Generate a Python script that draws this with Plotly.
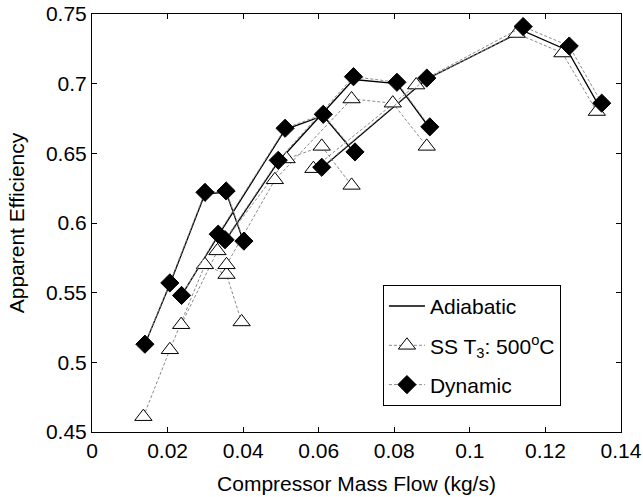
import plotly.graph_objects as go

# ---- data (None separates speed lines) ----
adiabatic_x = [0.0140, 0.0206, 0.0299, 0.0355, 0.0402, None,
               0.0237, 0.0334, 0.0511, 0.0612, 0.0696, None,
               0.0352, 0.0493, 0.0692, 0.0807, 0.0894, None,
               0.0606, 0.0884, 0.1140, 0.1258, 0.1344]
adiabatic_y = [0.513, 0.556, 0.621, 0.622, 0.586, None,
               0.548, 0.591, 0.667, 0.677, 0.650, None,
               0.587, 0.644, 0.703, 0.700, 0.668, None,
               0.639, 0.703, 0.738, 0.724, 0.683]

ss_x = [0.0136, 0.0206, 0.0299, 0.0356, 0.0396, None,
        0.0236, 0.0332, 0.0515, 0.0608, 0.0687, None,
        0.0356, 0.0484, 0.0687, 0.0796, 0.0886, None,
        0.0586, 0.0858, 0.1124, 0.1245, 0.1336]
ss_y = [0.461, 0.509, 0.570, 0.563, 0.529, None,
        0.527, 0.580, 0.646, 0.655, 0.627, None,
        0.570, 0.631, 0.689, 0.686, 0.655, None,
        0.639, 0.699, 0.736, 0.722, 0.680]

dyn_x = [0.0140, 0.0206, 0.0299, 0.0355, 0.0402, None,
         0.0237, 0.0334, 0.0511, 0.0612, 0.0696, None,
         0.0352, 0.0493, 0.0692, 0.0807, 0.0894, None,
         0.0608, 0.0886, 0.1141, 0.1263, 0.1349]
dyn_y = [0.513, 0.557, 0.622, 0.623, 0.587, None,
         0.548, 0.592, 0.668, 0.678, 0.651, None,
         0.588, 0.645, 0.705, 0.701, 0.669, None,
         0.640, 0.704, 0.741, 0.727, 0.686]

x_ticks = [0, 0.02, 0.04, 0.06, 0.08, 0.1, 0.12, 0.14]
x_tick_labels = ["0", "0.02", "0.04", "0.06", "0.08", "0.1", "0.12", "0.14"]
y_ticks = [0.45, 0.5, 0.55, 0.6, 0.65, 0.7, 0.75]
y_tick_labels = ["0.45", "0.5", "0.55", "0.6", "0.65", "0.7", "0.75"]

FONT = "Liberation Sans, Arial, sans-serif"
FS = 21
GRAY = "#8a8a8a"

fig = go.Figure()
fig.add_trace(go.Scatter(
    x=adiabatic_x, y=adiabatic_y, mode="lines", name="Adiabatic", legendgroup="a",
    line=dict(color="black", width=1.3)))
fig.add_trace(go.Scatter(
    x=ss_x, y=ss_y, mode="lines+markers", name="SS T<sub>3</sub>: 500<sup>o</sup>C",
    legendgroup="b",
    line=dict(color=GRAY, width=1, dash="3px,2px"),
    marker=dict(symbol="triangle-up", size=15, color="white",
                line=dict(color="black", width=1))))
fig.add_trace(go.Scatter(
    x=dyn_x, y=dyn_y, mode="lines+markers", name="Dynamic", legendgroup="c",
    line=dict(color=GRAY, width=1, dash="3px,2px"),
    marker=dict(symbol="diamond", size=14, color="black",
                line=dict(color="black", width=1))))

axis_common = dict(showline=True, linecolor="black", linewidth=1, mirror="ticks",
                   ticks="inside", ticklen=5, tickcolor="black", showgrid=False,
                   zeroline=False, automargin=False, ticklabeloverflow="allow",
                   tickfont=dict(family=FONT, size=FS, color="black"))

fig.update_layout(
    width=643, height=497,
    margin=dict(l=92, r=22, t=14, b=65),
    paper_bgcolor="white", plot_bgcolor="white",
    font=dict(family=FONT, size=FS, color="black"),
    xaxis=dict(range=[0, 0.14], tickvals=x_ticks, ticktext=x_tick_labels,
               title=dict(text="Compressor Mass Flow (kg/s)", font=dict(family=FONT, size=FS)),
               **axis_common),
    yaxis=dict(range=[0.45, 0.75], tickvals=y_ticks, ticktext=y_tick_labels,
               title=dict(text="Apparent Efficiency", font=dict(family=FONT, size=FS)),
               **axis_common),
    legend=dict(x=0.55, y=0.352, xanchor="left", yanchor="top",
                bgcolor="white", bordercolor="black", borderwidth=1,
                font=dict(family=FONT, size=FS), tracegroupgap=9,
                itemwidth=36),
    showlegend=True,
)

# remove the browser's default 8px body margin so the figure fills the window exactly
fig.write_html("out.html",
               config={"displayModeBar": False},
               post_script="document.body.style.margin='0px';document.body.style.overflow='hidden';")
